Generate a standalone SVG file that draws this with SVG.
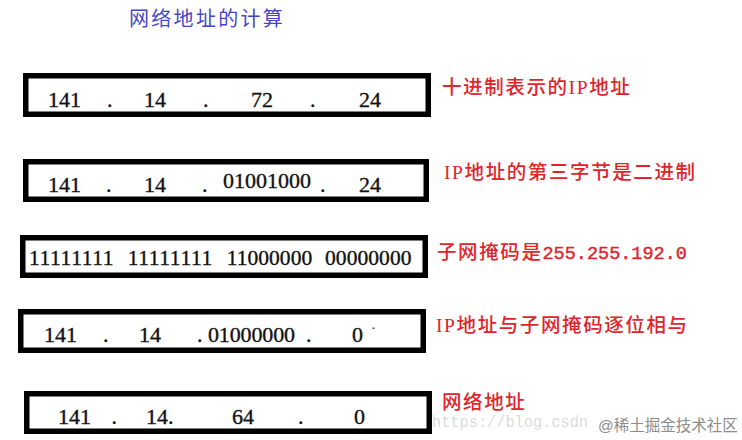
<svg xmlns="http://www.w3.org/2000/svg" width="742" height="440" viewBox="0 0 742 440">
<style>
.box{fill:#fff;stroke:#000;stroke-width:5.5}
.num{font-family:"Liberation Serif","Times New Roman",serif;font-size:22px;fill:#111;stroke:#111;stroke-width:0.35}
.bin{font-family:"Liberation Serif","Times New Roman",serif;font-size:21.5px;fill:#111;stroke:#111;stroke-width:0.35}
.lbl{font-family:"Liberation Serif","Noto Sans CJK SC",serif;font-size:19.5px;fill:#e0242c;letter-spacing:1.6px;font-weight:500}
.mono{font-family:"Liberation Mono","Noto Sans CJK SC",monospace;font-size:18.5px;letter-spacing:0;stroke:#e0242c;stroke-width:0.4}
.title{font-family:"Noto Sans CJK SC",sans-serif;font-size:20px;fill:#4646c4;letter-spacing:2.3px}
.wm{font-family:"Liberation Mono",monospace;font-size:17px;fill:#dcdcdc}
.wm2{font-family:"Liberation Sans","Noto Sans CJK SC",sans-serif;font-size:15.5px;fill:#8c8c8c}
</style>
<rect width="742" height="440" fill="#fff"/>
<g id="title"><text class="title" x="129" y="25.5">网络地址的计算</text></g>
<g id="connectors"/>
<g id="node-decimal">
<rect class="box" x="25.75" y="75.75" width="402.5" height="38.5"/>
<text class="num" y="107"><tspan x="48">141</tspan><tspan x="107">.</tspan><tspan x="144">14</tspan><tspan x="203">.</tspan><tspan x="251">72</tspan><tspan x="310">.</tspan><tspan x="359">24</tspan></text>
</g>
<g id="label-decimal"><text class="lbl" x="442" y="94">十进制表示的IP地址</text></g>
<g id="node-binary3">
<rect class="box" x="25.75" y="161.75" width="400.5" height="37.5"/>
<text class="num" y="192"><tspan x="48">141</tspan><tspan x="106">.</tspan><tspan x="144">14</tspan><tspan x="202">.</tspan><tspan x="320">.</tspan><tspan x="359">24</tspan></text>
<text class="num" x="223" y="188" textLength="88" lengthAdjust="spacing">01001000</text>
</g>
<g id="label-binary3"><text class="lbl" x="444" y="179">IP地址的第三字节是二进制</text></g>
<g id="node-mask">
<rect class="box" x="22.75" y="237.75" width="402.5" height="37.5"/>
<text class="bin" x="29" y="265" textLength="84.5" lengthAdjust="spacing">11111111</text>
<text class="bin" x="127.7" y="265" textLength="84.5" lengthAdjust="spacing">11111111</text>
<text class="bin" x="226.7" y="265" textLength="85.5" lengthAdjust="spacing">11000000</text>
<text class="bin" x="325" y="265" textLength="86.5" lengthAdjust="spacing">00000000</text>
</g>
<g id="label-mask"><text class="lbl" x="437" y="259">子网掩码是<tspan class="mono">255.255.192.0</tspan></text></g>
<g id="node-and">
<rect class="box" x="20.75" y="311.75" width="402.5" height="38.5"/>
<text class="num" y="342"><tspan x="44">141</tspan><tspan x="103">.</tspan><tspan x="139">14</tspan><tspan x="197">.</tspan><tspan x="306">.</tspan><tspan x="352">0</tspan></text>
<text class="num" x="208" y="342" textLength="87" lengthAdjust="spacing">01000000</text>
<rect x="372.5" y="327.5" width="2" height="1.5" fill="#555"/>
</g>
<g id="label-and"><text class="lbl" x="436" y="332">IP地址与子网掩码逐位相与</text></g>
<g id="node-network">
<rect class="box" x="26.75" y="393.75" width="402.5" height="37.5"/>
<text class="num" y="424"><tspan x="58">141</tspan><tspan x="111.5">.</tspan><tspan x="146">14.</tspan><tspan x="232">64</tspan><tspan x="298">.</tspan><tspan x="354">0</tspan></text>
</g>
<g id="label-network"><text class="lbl" x="442" y="409">网络地址</text></g>
<g id="watermark">
<text class="wm" x="432" y="427" textLength="156" lengthAdjust="spacingAndGlyphs">https://blog.csdn</text>
<text class="wm2" x="598" y="431">@稀土掘金技术社区</text>
</g>
</svg>
